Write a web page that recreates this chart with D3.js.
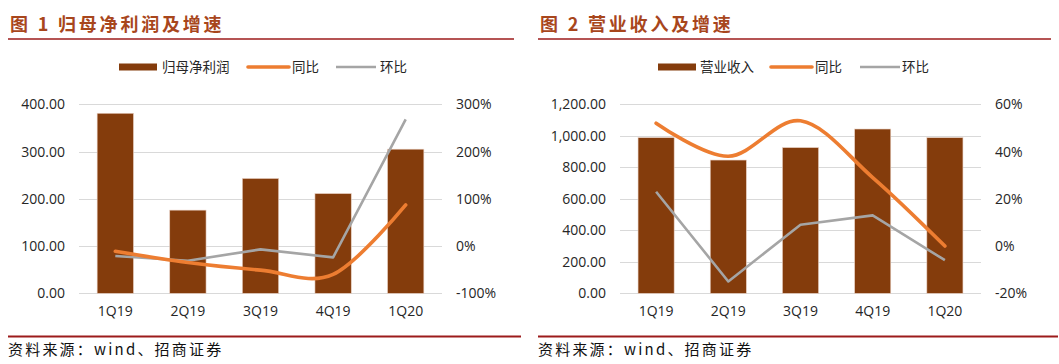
<!DOCTYPE html>
<html>
<head>
<meta charset="utf-8">
<script src="https://cdn.jsdelivr.net/npm/d3@7"></script>
<style>
  body { margin: 0; background: #fff; }
  svg text { font-family: "Open Sans", "Noto Sans CJK SC", sans-serif; }
</style>
</head>
<body>
<div id="chart"></div>
<script>
// data
var quarters = ["1Q19", "2Q19", "3Q19", "4Q19", "1Q20"];

var profit = [381, 176, 243, 211, 305];
var profitYoY = [-11, -35, -51, -60, 87];
var profitQoQ = [-21, -31, -7, -24, 268];

var revenue = [988, 846, 925, 1043, 988];
var revenueYoY = [52, 38, 53, 29, 0];
var revenueQoQ = [23, -15, 9, 13, -6];

var profitTicks = [0, 100, 200, 300, 400];
var profitPctTicks = [-100, 0, 100, 200, 300];
var revenueTicks = [0, 200, 400, 600, 800, 1000, 1200];
var revenuePctTicks = [-20, 0, 20, 40, 60];

var svg = d3.select("#chart")
  .append("svg")
  .attr("width", 1059)
  .attr("height", 364);

var barColor = "#843C0C",
    yoyColor = "#ED7D31",
    qoqColor = "#A5A5A5",
    ruleColor = "#9C1B1B",
    titleColor = "#A8461C";

var drawPanel = function(opt) {
  var g = svg.append("g");

  // title and rules
  g.append("text")
    .attr("x", opt.x0 + 2)
    .attr("y", 31)
    .style("font-family", "'Noto Sans CJK SC', sans-serif")
    .style("font-weight", "bold")
    .style("font-size", "18px")
    .style("letter-spacing", "2.8px")
    .style("fill", titleColor)
    .text(opt.title);

  g.append("line")
    .attr("x1", opt.x0).attr("x2", opt.x1)
    .attr("y1", 39).attr("y2", 39)
    .attr("stroke", ruleColor).attr("stroke-width", 1.6);

  g.append("line")
    .attr("x1", opt.x0).attr("x2", opt.bx1)
    .attr("y1", 336.5).attr("y2", 336.5)
    .attr("stroke", ruleColor).attr("stroke-width", 2);

  g.append("text")
    .attr("x", opt.x0)
    .attr("y", 355)
    .style("font-family", "'Noto Sans CJK SC', sans-serif")
    .style("font-size", "15px")
    .style("letter-spacing", "2.2px")
    .style("fill", "#111")
    .text("资料来源：wind、招商证券");

  // scales
  var x = d3.scaleBand()
    .domain(quarters)
    .range([opt.left, opt.right])
    .paddingInner(0.5)
    .paddingOuter(0.25);

  var y = d3.scaleLinear()
    .domain(opt.yDomain)
    .range([293.3, 104.3]);

  var y2 = d3.scaleLinear()
    .domain(opt.y2Domain)
    .range([293.3, 104.3]);

  // gridlines
  g.selectAll("grid")
    .data(opt.ticks)
    .enter()
    .append("line")
      .attr("x1", opt.left).attr("x2", opt.right)
      .attr("y1", function(d) { return Math.round(y(d)) + 0.5; })
      .attr("y2", function(d) { return Math.round(y(d)) + 0.5; })
      .attr("stroke", "#D9D9D9")
      .attr("stroke-width", 1);

  // left axis
  var leftAxis = g.append("g")
    .attr("transform", "translate(" + (opt.left - 14) + ",0)")
    .call(d3.axisLeft(y).tickValues(opt.ticks).tickSize(0)
      .tickFormat(function(d) { return d3.format(",.2f")(d); }));
  leftAxis.select(".domain").remove();
  leftAxis.selectAll("text")
    .style("font-size", "14px")
    .style("fill", "#262626")
    .attr("x", 0);

  // right axis
  var rightAxis = g.append("g")
    .attr("transform", "translate(" + (opt.right + 14) + ",0)")
    .call(d3.axisRight(y2).tickValues(opt.pctTicks).tickSize(0)
      .tickFormat(function(d) { return d + "%"; }));
  rightAxis.select(".domain").remove();
  rightAxis.selectAll("text")
    .style("font-size", "14px")
    .style("fill", "#262626")
    .attr("x", 0);

  // bottom axis
  var bottomAxis = g.append("g")
    .attr("transform", "translate(0,293)")
    .call(d3.axisBottom(x).tickSize(0));
  bottomAxis.select(".domain").remove();
  bottomAxis.selectAll("text")
    .style("font-size", "14px")
    .style("fill", "#262626")
    .attr("y", 13);

  // bars
  g.selectAll("bars")
    .data(opt.bars)
    .enter()
    .append("rect")
      .attr("x", function(d, i) { return x(quarters[i]); })
      .attr("y", function(d) { return y(d); })
      .attr("width", x.bandwidth())
      .attr("height", function(d) { return y(0) - y(d); })
      .attr("fill", barColor)
      .attr("stroke", "#E8CFC2")
      .attr("stroke-width", 0.6);

  // lines
  var smooth = d3.line()
    .x(function(d, i) { return x(quarters[i]) + x.bandwidth() / 2; })
    .y(function(d) { return y2(d); })
    .curve(d3.curveCardinal.tension(0));

  var straight = d3.line()
    .x(function(d, i) { return x(quarters[i]) + x.bandwidth() / 2; })
    .y(function(d) { return y2(d); });

  g.append("path")
    .attr("d", straight(opt.qoq))
    .attr("fill", "none")
    .attr("stroke", qoqColor)
    .attr("stroke-width", 2.6)
    .attr("stroke-linejoin", "round");

  g.append("path")
    .attr("d", smooth(opt.yoy))
    .attr("fill", "none")
    .attr("stroke", yoyColor)
    .attr("stroke-width", 3.6)
    .attr("stroke-linecap", "round");

  // legend
  var lg = g.append("g").attr("transform", "translate(0,67)");
  lg.append("rect")
    .attr("x", opt.legX[0]).attr("y", -3.5)
    .attr("width", 38).attr("height", 7)
    .attr("fill", barColor);
  lg.append("line")
    .attr("x1", opt.legX[2]).attr("x2", opt.legX[2] + 41)
    .attr("y1", 0).attr("y2", 0)
    .attr("stroke", yoyColor).attr("stroke-width", 3.6)
    .attr("stroke-linecap", "round");
  lg.append("line")
    .attr("x1", opt.legX[4]).attr("x2", opt.legX[4] + 40)
    .attr("y1", 0).attr("y2", 0)
    .attr("stroke", qoqColor).attr("stroke-width", 2.6);

  var labels = [opt.barName, "同比", "环比"];
  lg.selectAll("legText")
    .data(labels)
    .enter()
    .append("text")
      .attr("x", function(d, i) { return opt.legX[i * 2 + 1]; })
      .attr("y", 5)
      .style("font-family", "'Noto Sans CJK SC', sans-serif")
      .style("font-size", "13.5px")
      .style("fill", "#262626")
      .text(function(d) { return d; });
};

drawPanel({
  title: "图 1 归母净利润及增速",
  barName: "归母净利润",
  x0: 8, x1: 514, bx1: 521,
  left: 79, right: 442,
  yDomain: [0, 400], y2Domain: [-100, 300],
  ticks: profitTicks, pctTicks: profitPctTicks,
  bars: profit, yoy: profitYoY, qoq: profitQoQ,
  legX: [119, 162, 248, 292, 336, 380]
});

drawPanel({
  title: "图 2 营业收入及增速",
  barName: "营业收入",
  x0: 538, x1: 1051, bx1: 1058,
  left: 620, right: 981,
  yDomain: [0, 1200], y2Domain: [-20, 60],
  ticks: revenueTicks, pctTicks: revenuePctTicks,
  bars: revenue, yoy: revenueYoY, qoq: revenueQoQ,
  legX: [658, 700, 771, 815, 860, 902]
});
</script>
</body>
</html>
